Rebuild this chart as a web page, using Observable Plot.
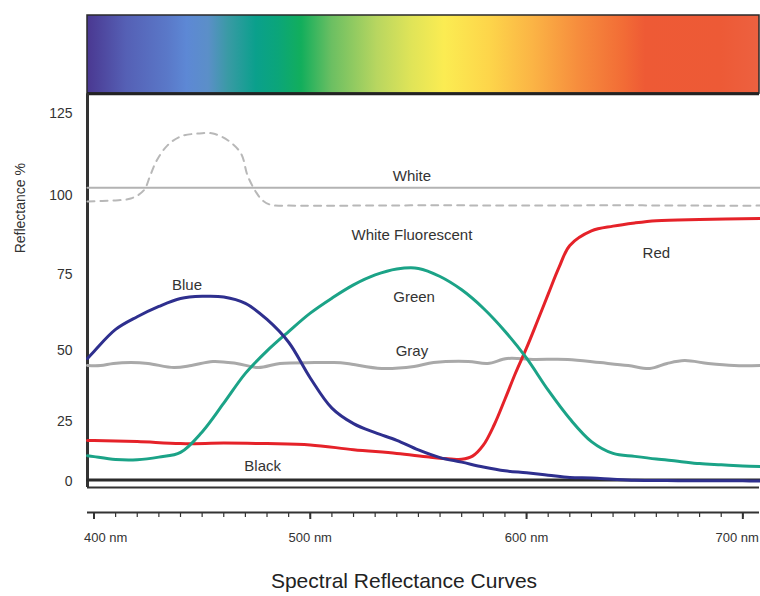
<!DOCTYPE html>
<html><head><meta charset="utf-8">
<script src="https://cdn.jsdelivr.net/npm/d3@7"></script>
<script src="https://cdn.jsdelivr.net/npm/@observablehq/plot@0.6"></script>
<style>
body{margin:0;background:#fff;font-family:"Liberation Sans",Arial,sans-serif;overflow:hidden;}
#chart svg{display:block;}
#title{width:760px;box-sizing:border-box;padding-left:48px;text-align:center;font-size:21px;line-height:42px;color:#222;}
</style></head><body>
<div id="chart"></div>
<div id="title">Spectral Reflectance Curves</div>
<script>
// wavelengths (nm) shared by Blue and Green
const nm = [397,400,410,420,430,440,450,460,470,480,490,500,510,520,530,540,550,560,570,580,590,600,610,620,630,640,650,660,670,680,690,700,708];
const blue = [47.3,49.7,57.1,61.3,64.7,67.3,68.0,67.8,65.7,60.4,52.8,40.6,29.9,24.2,20.8,17.9,14.1,11.0,9.1,7.0,5.3,4.4,3.3,2.1,1.9,1.2,0.6,0.5,0.4,0.35,0.3,0.25,0.2];
const green = [11.8,11.4,10.2,10.1,11.2,13.1,21.1,31.7,42.2,49.9,56.4,62.5,67.4,71.7,74.9,76.8,77.0,74.4,70.1,64.1,56.5,47.4,36.3,26.0,17.4,12.7,11.5,10.4,9.5,8.5,8.0,7.5,7.2];
const redNm = [397,400,420,440,460,480,500,520,540,555,565,570,575,580,585,590,595,600,605,610,615,620,630,640,650,660,680,708];
const red = [17.8,17.8,17.4,16.6,16.8,16.6,16.1,14.2,12.7,11.2,10.4,10.3,11.6,16.0,23.7,33.1,42.5,50.9,59.8,68.7,77.3,84.3,88.9,90.4,91.4,92.1,92.5,92.8];
const grayNm = [397,403,409,417,425,437,445,455,466,476,486,502,511,517,533,548,557,573,582,591,603,619,634,647,657,665,673,684,696,708];
const gray = [44.9,44.9,45.6,45.9,45.6,44.2,44.9,46.3,45.6,44.2,45.6,45.9,45.9,45.6,43.9,44.6,45.9,46.3,45.6,47.3,47.0,47.0,45.9,44.9,43.9,45.6,46.6,45.6,44.9,44.9];
const fluorNm = [397,409,417,423,426,429,434,440,448,455,462,468,471,475,478,482,490,520,560,600,640,680,708];
const fluor = [98.1,98.4,99.0,101.5,106.1,110.7,115.3,118.0,118.9,118.9,116.8,112.8,106.1,100.9,98.4,97.0,96.8,96.8,96.9,96.8,96.9,96.8,96.8];
const whiteNm = [397,708];
const white = [102.3,102.3];
const blackNm = [397,708];
const black = [0.8,0.8];

const yTicks = [0,25,50,75,100,125];
const xMinor = d3.range(400, 701, 10);
const xMajor = [400,500,600,700];

const spectrumNm = [397,415,434,443,453,462,475,485,496,510,531,547,562,583,603,624,645,655,690,708];
const spectrumColors = ["#4a3891","#5560b5","#5a78c8","#5d88d5","#5b8fc8","#3a9aa5","#0aa08c","#0ba57a","#12ae5c","#6bbf62","#b8d660","#e0e458","#fbec52","#fdd54a","#fbb445","#f68d3d","#f26c36","#ee5a35","#ed5a36","#ed6140"];

const labelNames = ["White","White Fluorescent","Blue","Green","Gray","Red","Black"];
const labelNm = [547,547,443,548,547,660,478];
const labelVal = [105.8,87.4,71.5,67.6,49.7,81.8,7.2];

const pts = (xs, ys) => xs.map((x, i) => ({nm: x, v: ys[i]}));
const labels = labelNames.map((t, i) => ({t, nm: labelNm[i], v: labelVal[i]}));

const X0 = 397, X1 = 707.7;

const chart = Plot.plot({
  width: 760,
  height: 560,
  marginLeft: 87,
  marginRight: 1,
  marginTop: 15,
  marginBottom: 48,
  style: {fontFamily: "'Liberation Sans', Arial, sans-serif", color: "#333", background: "#fff", overflow: "visible"},
  x: {domain: [X0, X1]},
  y: {type: "pow", exponent: 1.13, domain: [-14.12, 154]},
  marks: [
    // spectrum bar
    Plot.rect([0], {x1: X0, x2: X1, y1: 130.9, y2: 154, fill: "url(#spectrum)", stroke: "#2a2a2a", strokeWidth: 1.5}),
    Plot.ruleY([130.9], {x1: X0, x2: X1, stroke: "#222", strokeWidth: 3}),
    // frame
    Plot.ruleX([X0], {y1: -3.42, y2: 130.9, stroke: "#333", strokeWidth: 3}),
    Plot.ruleY([-3.42], {x1: X0, x2: X1, stroke: "#333", strokeWidth: 2}),
    // x axis line
    Plot.ruleY([-14.12], {x1: X0, x2: X1, stroke: "#333", strokeWidth: 2}),
    // curves
    Plot.line(pts(whiteNm, white), {x: "nm", y: "v", stroke: "#b3b3b3", strokeWidth: 2}),
    Plot.line(pts(fluorNm, fluor), {x: "nm", y: "v", stroke: "#b8b8b8", strokeWidth: 2, strokeDasharray: "7,6", curve: "catmull-rom"}),
    Plot.line(pts(grayNm, gray), {x: "nm", y: "v", stroke: "#a9a9a9", strokeWidth: 3, curve: "catmull-rom"}),
    Plot.line(pts(blackNm, black), {x: "nm", y: "v", stroke: "#2b2b2b", strokeWidth: 3}),
    Plot.line(pts(redNm, red), {x: "nm", y: "v", stroke: "#e52229", strokeWidth: 3, curve: "catmull-rom"}),
    Plot.line(pts(nm, green), {x: "nm", y: "v", stroke: "#1ba387", strokeWidth: 3, curve: "catmull-rom"}),
    Plot.line(pts(nm, blue), {x: "nm", y: "v", stroke: "#2e2f8e", strokeWidth: 3, curve: "catmull-rom"}),
    // curve labels
    Plot.text(labels, {x: "nm", y: "v", text: "t", fontSize: 15, fill: "#333"}),
    // y axis label
    Plot.text(["Reflectance %"], {y: [81.8], text: d => d, frameAnchor: "left", dx: -66.5, rotate: -90, fontSize: 14, fill: "#333"}),
    // axes
    Plot.axisY({ticks: yTicks, tickSize: 0, tickPadding: 15, label: null, fontSize: 14}),
    Plot.axisX({ticks: xMinor, tickSize: 5, tickFormat: () => "", label: null, strokeWidth: 1.2}),
    Plot.axisX({ticks: xMajor, tickSize: 7, tickFormat: () => "", label: null, strokeWidth: 2}),
    Plot.axisX({ticks: [500, 600], tickSize: 0, tickPadding: 20, tickFormat: d => `${d} nm`, label: null, fontSize: 13}),
    Plot.axisX({ticks: [400], tickSize: 0, tickPadding: 20, tickFormat: d => `${d} nm`, textAnchor: "start", dx: -10, label: null, fontSize: 13}),
    Plot.axisX({ticks: [700], tickSize: 0, tickPadding: 20, tickFormat: d => `${d} nm`, textAnchor: "end", dx: 16, label: null, fontSize: 13})
  ]
});

// spectrum gradient, stops placed through the x scale
const xs = chart.scale("x");
const x0 = xs.apply(X0), x1 = xs.apply(X1);
const grad = d3.select(chart).insert("defs", ":first-child")
  .append("linearGradient").attr("id", "spectrum")
  .attr("x1", 0).attr("x2", 1).attr("y1", 0).attr("y2", 0);
spectrumNm.forEach((w, i) => {
  grad.append("stop")
    .attr("offset", (xs.apply(w) - x0) / (x1 - x0))
    .attr("stop-color", spectrumColors[i]);
});

document.getElementById("chart").appendChild(chart);
</script></body></html>
